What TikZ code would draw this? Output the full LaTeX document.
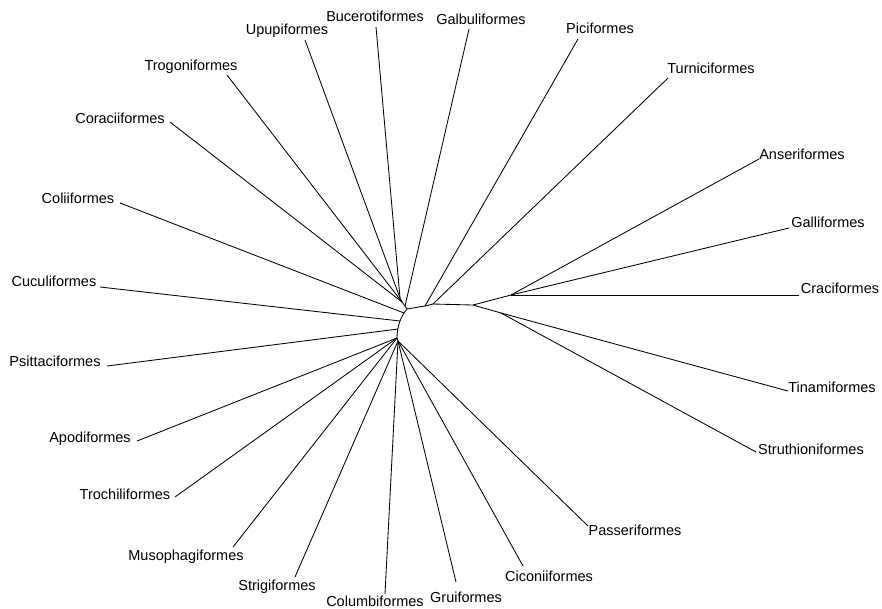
\documentclass[tikz,border=0pt]{standalone}
\usepackage{fontspec}
\setmainfont{Liberation Sans}
\begin{document}
\begin{tikzpicture}[x=1pt,y=-1pt,
  branch/.style={draw=black,line width=0.85pt,line join=round},
  taxon/.style={inner sep=0pt,anchor=base,font=\fontsize{14.5}{17}\selectfont}]
\useasboundingbox (0,0) rectangle (882,608);
% internal nodes
\coordinate (n1) at (407,309);
\coordinate (u0) at (405,306);
\coordinate (u1) at (400,298);
\coordinate (u2) at (402,302);
\coordinate (ac) at (404,313);
\coordinate (ak) at (400,321);
\coordinate (ap) at (398,329);
\coordinate (n3) at (397,338);
\coordinate (n4) at (398,341);
\coordinate (p1) at (425,306);
\coordinate (p2) at (433,304);
\coordinate (p3) at (473,305);
\coordinate (p4) at (511,295);
\coordinate (p5) at (501,313);
% leaf ends
\coordinate (eBuc) at (376,27);
\coordinate (eUpu) at (305,40);
\coordinate (eTro) at (227,75);
\coordinate (eCor) at (170,122);
\coordinate (eCol) at (120,203);
\coordinate (eCuc) at (100,287);
\coordinate (ePsi) at (107,366);
\coordinate (eApo) at (137,441);
\coordinate (eTrc) at (175,497);
\coordinate (eMus) at (233,547);
\coordinate (eStr) at (295,577);
\coordinate (eClb) at (385,594);
\coordinate (eGru) at (456,582);
\coordinate (eCic) at (523,566);
\coordinate (ePas) at (588,526);
\coordinate (eStu) at (756,452);
\coordinate (eTin) at (788,391);
\coordinate (eCra) at (799,295);
\coordinate (eGal) at (789,228);
\coordinate (eAns) at (759,159);
\coordinate (eTur) at (668,78);
\coordinate (ePic) at (578,39);
\coordinate (eGlb) at (469,29);
% labels
\node[taxon] (buc) at (375,21) {Bucerotiformes};
\node[taxon] (upu) at (287,34) {Upupiformes};
\node[taxon] (tro) at (191,70) {Trogoniformes};
\node[taxon] (cor) at (120,123) {Coraciiformes};
\node[taxon] (col) at (78,203) {Coliiformes};
\node[taxon] (cuc) at (54,286) {Cuculiformes};
\node[taxon] (psi) at (55,366) {Psittaciformes};
\node[taxon] (apo) at (90,442) {Apodiformes};
\node[taxon] (trc) at (125,499) {Trochiliformes};
\node[taxon] (mus) at (186,560) {Musophagiformes};
\node[taxon] (str) at (277,590) {Strigiformes};
\node[taxon] (clb) at (375,606) {Columbiformes};
\node[taxon] (gru) at (466,602) {Gruiformes};
\node[taxon] (cic) at (549,581) {Ciconiiformes};
\node[taxon] (pas) at (635,535) {Passeriformes};
\node[taxon] (stu) at (811,454) {Struthioniformes};
\node[taxon] (tin) at (832,392) {Tinamiformes};
\node[taxon] (cra) at (840,293) {Craciformes};
\node[taxon] (gal) at (828,227) {Galliformes};
\node[taxon] (ans) at (802,159) {Anseriformes};
\node[taxon] (tur) at (711,73) {Turniciformes};
\node[taxon] (pic) at (600,33) {Piciformes};
\node[taxon] (glb) at (481,24) {Galbuliformes};
% internal branches
\draw[branch] (u1) -- (u2) -- (u0) -- (n1);
\draw[branch] (n1) .. controls (401,316) and (397,326) .. (n3);
\draw[branch] (n3) -- (n4);
\draw[branch] (n1) -- (p1) -- (p2) -- (p3) -- (p4);
\draw[branch] (p3) -- (p5);
% terminal branches
\draw[branch] (u1) -- (eBuc);
\draw[branch] (u1) -- (eUpu);
\draw[branch] (u2) -- (eTro);
\draw[branch] (u2) -- (eCor);
\draw[branch] (u0) -- (eGlb);
\draw[branch] (ac) -- (eCol);
\draw[branch] (ak) -- (eCuc);
\draw[branch] (ap) -- (ePsi);
\draw[branch] (n3) -- (eApo);
\draw[branch] (n3) -- (eTrc);
\draw[branch] (n3) -- (eMus);
\draw[branch] (n4) -- (eStr);
\draw[branch] (n4) -- (eClb);
\draw[branch] (n4) -- (eGru);
\draw[branch] (n4) -- (eCic);
\draw[branch] (n4) -- (ePas);
\draw[branch] (p1) -- (ePic);
\draw[branch] (p2) -- (eTur);
\draw[branch] (p4) -- (eAns);
\draw[branch] (p4) -- (eGal);
\draw[branch] (p4) -- (eCra);
\draw[branch] (p5) -- (eTin);
\draw[branch] (p5) -- (eStu);
\end{tikzpicture}
\end{document}
